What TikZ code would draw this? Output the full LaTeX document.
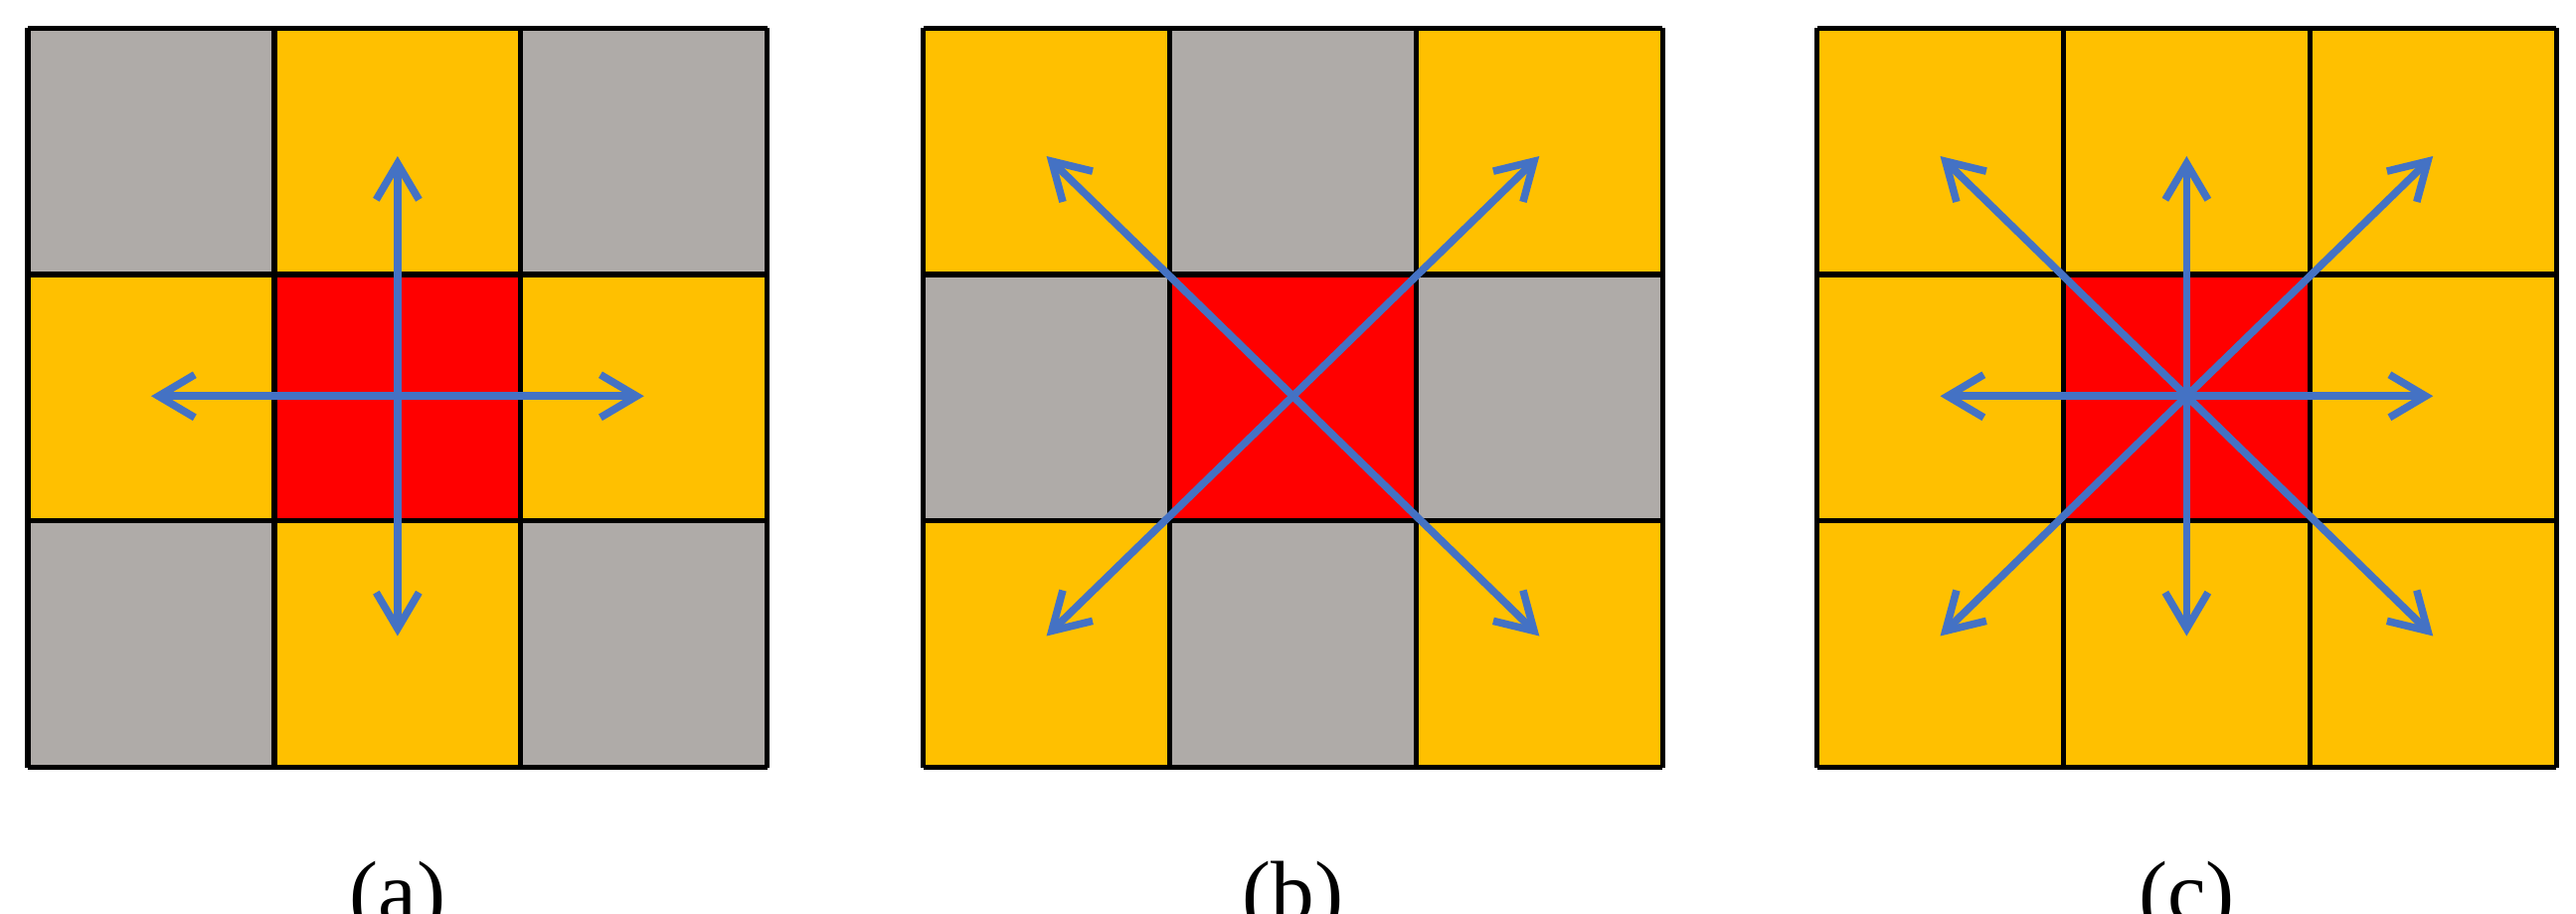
\documentclass[tikz,border=0pt]{standalone}
\usepackage{fontspec}
\setmainfont{Liberation Serif}
\usetikzlibrary{arrows.meta}
\definecolor{cy}{RGB}{255,192,0}
\definecolor{cg}{RGB}{175,171,168}
\definecolor{cr}{RGB}{255,0,0}
\definecolor{cb}{RGB}{68,114,196}
\tikzset{grid line/.style={draw=black,line width=0.9pt},
arr/.style={cb,line width=1.3pt,-{Straight Barb[length=2.2mm,width=2.6mm,line width=1.3pt]}},
lab/.style={font=\fontsize{15}{17}\selectfont}}
\begin{document}
\begin{tikzpicture}[x=0.01cm,y=-0.01cm]
\useasboundingbox (0,0) rectangle (1568,556);
% panel a
\fill[cy] (17,17) rectangle (467,466);
\foreach \i/\j in {0/0,2/0,0/2,2/2} \fill[cg] (17+150*\i,17+150*\j) rectangle ++(150,150);
% panel b
\fill[cy] (562,17) rectangle (1012,466);
\foreach \i/\j in {1/0,0/1,2/1,1/2} \fill[cg] (562+150*\i,17+150*\j) rectangle ++(150,150);
% panel c
\fill[cy] (1106,17) rectangle (1557,466);
\foreach \ox in {17,562,1106}{
  \fill[cr] (\ox+150,167) rectangle ++(150,150);
  \foreach \k in {0,150,300,450}{
    \draw[grid line] (\ox+\k,17) -- (\ox+\k,467);
    \draw[grid line] (\ox,17+\k) -- (\ox+450,17+\k);
  }
}
% centres
\coordinate (ca) at (242,241);
\coordinate (cbb) at (787,241);
\coordinate (cc) at (1331,241);
\foreach \d in {(150,0),(-150,0),(0,146),(0,-146)}
  \draw[arr] (ca) -- ++\d;
\foreach \d in {(150,146),(-150,146),(150,-146),(-150,-146)}
  \draw[arr] (cbb) -- ++\d;
\foreach \d in {(150,0),(-150,0),(0,146),(0,-146),(150,146),(-150,146),(150,-146),(-150,-146)}
  \draw[arr] (cc) -- ++\d;
\node[lab] (la) at (242,548) {(a)};
\node[lab] (lb) at (787,548) {(b)};
\node[lab] (lc) at (1331,548) {(c)};
\end{tikzpicture}
\end{document}
